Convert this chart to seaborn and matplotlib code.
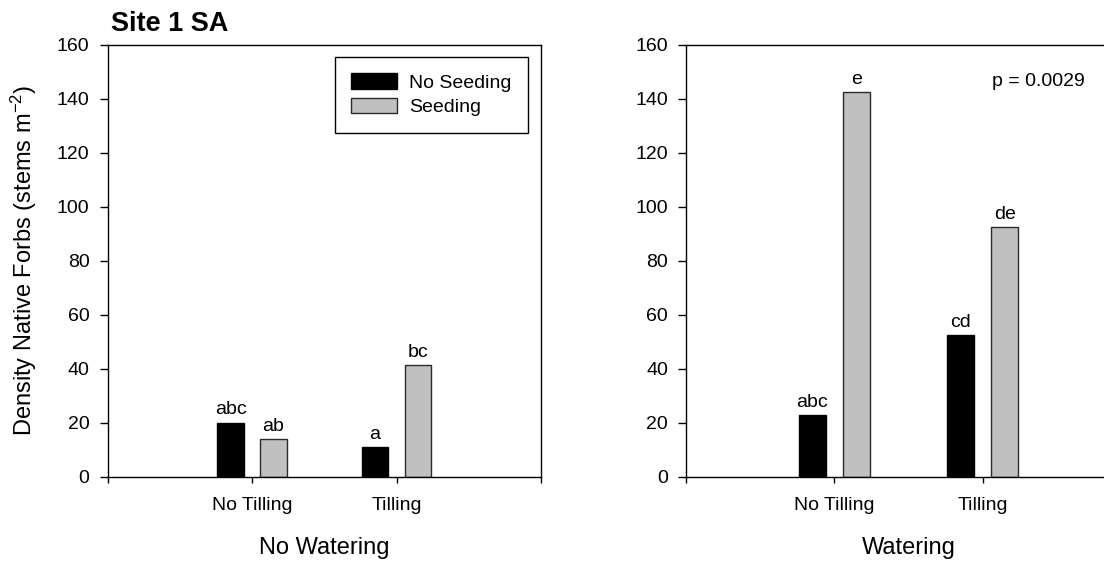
import numpy as np
import pandas as pd
import matplotlib
matplotlib.use("Agg")
import matplotlib.pyplot as plt
import seaborn as sns

# Categories and treatment labels
tilling = ["No Tilling", "Tilling"]
seeding = ["No Seeding", "Seeding"]
panels = ["No Watering", "Watering"]

# Mean density of native forbs (stems m^-2)
no_water_no_seed = [20.0, 11.0]
no_water_seed = [13.8, 41.3]
water_no_seed = [22.7, 52.5]
water_seed = [142.6, 92.5]

# Significance letters
no_water_letters_no_seed = ["abc", "a"]
no_water_letters_seed = ["ab", "bc"]
water_letters_no_seed = ["abc", "cd"]
water_letters_seed = ["e", "de"]

y_ticks = [0, 20, 40, 60, 80, 100, 120, 140, 160]

sns.set_theme(style="ticks")
plt.rcParams["font.family"] = ["Liberation Sans", "DejaVu Sans"]
plt.rcParams["mathtext.fontset"] = "custom"
plt.rcParams["mathtext.rm"] = "Liberation Sans"
plt.rcParams["mathtext.it"] = "Liberation Sans"
for key in ["text.color", "axes.labelcolor", "xtick.color", "ytick.color",
            "axes.edgecolor"]:
    plt.rcParams[key] = "black"

palette = {"No Seeding": "#000000", "Seeding": "#c0c0c0"}


def make_frame(no_seed, seed):
    return pd.DataFrame({
        "Tilling": tilling * 2,
        "Seeding": [seeding[0]] * 2 + [seeding[1]] * 2,
        "Density": list(no_seed) + list(seed),
    })


fig = plt.figure(figsize=(11.04, 5.61), dpi=100)
W, H = 1104, 561
ax1 = fig.add_axes([107.5 / W, (H - 476.5) / H, 433.5 / W, 431.7 / H])
ax2 = fig.add_axes([686.0 / W, (H - 476.5) / H, 445.0 / W, 431.7 / H])

data = [
    (ax1, make_frame(no_water_no_seed, no_water_seed),
     [no_water_letters_no_seed, no_water_letters_seed], panels[0]),
    (ax2, make_frame(water_no_seed, water_seed),
     [water_letters_no_seed, water_letters_seed], panels[1]),
]

for ax, df, letters, xlabel in data:
    sns.barplot(data=df, x="Tilling", y="Density", hue="Seeding",
                order=tilling, hue_order=seeding, palette=palette,
                width=0.592, gap=0.375, dodge=True, errorbar=None,
                saturation=1, linewidth=1.0, ax=ax, legend=(ax is ax1))
    for cont, labs in zip(ax.containers, letters):
        for bar in cont:
            if bar.get_facecolor()[0] > 0.5:
                bar.set_edgecolor("#2a2a2a")
            else:
                bar.set_edgecolor("#000000")
        ax.bar_label(cont, labels=labs, padding=3, fontsize=14, color="black")

    ax.set_xlim(-1, 2)
    ax.set_ylim(0, 160)
    ax.set_xticks([-1, 0, 1, 2])
    ax.set_xticklabels(["", tilling[0], tilling[1], ""])
    ax.set_yticks(y_ticks)
    ax.tick_params(axis="x", direction="out", length=4.5, width=1,
                   pad=10.5, labelsize=14, color="black", labelcolor="black")
    ax.tick_params(axis="y", direction="out", length=6, width=1,
                   pad=7, labelsize=14, color="black", labelcolor="black")
    for s in ax.spines.values():
        s.set_visible(True)
        s.set_color("black")
        s.set_linewidth(1.0)
    ax.set_xlabel(xlabel, fontsize=17, color="black")
    ax.xaxis.set_label_coords(0.5, -0.139)
    ax.set_ylabel("")

ax1.set_ylabel("Density Native Forbs (stems m$^{-2}$)", fontsize=17,
               color="black")
ax1.yaxis.set_label_coords(-0.159, 0.5)

handles, labels = ax1.get_legend_handles_labels()
for h in handles:
    if h.get_facecolor()[0] > 0.5:
        h.set_edgecolor("#2a2a2a")
    else:
        h.set_edgecolor("#000000")
leg = ax1.legend(handles, labels, loc="upper right",
                 bbox_to_anchor=(0.969, 0.972), borderaxespad=0,
                 fontsize=14, frameon=True, fancybox=False,
                 edgecolor="black", framealpha=1, labelcolor="black",
                 handlelength=2.35, handleheight=0.85, handletextpad=0.6,
                 labelspacing=0.3, borderpad=0.85)
leg.get_frame().set_linewidth(1.0)

fig.text(111 / W, 1 - 31 / H, "Site 1 SA", fontsize=19.5, fontweight="bold",
         ha="left", va="baseline", color="black")
ax2.text(0.688, 0.904, "p = 0.0029", transform=ax2.transAxes,
         fontsize=14, ha="left", va="baseline", color="black")

fig.savefig("out.png", dpi=100, facecolor="white")
